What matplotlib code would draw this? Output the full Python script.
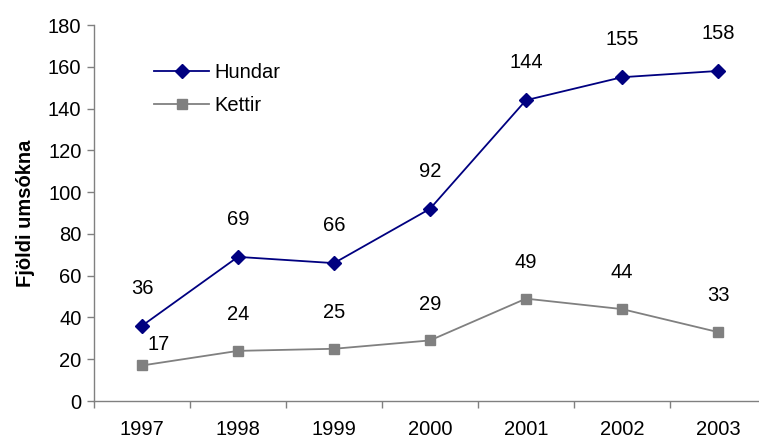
import numpy as np
import matplotlib
matplotlib.use('Agg')
import matplotlib.pyplot as plt

plt.rcParams['font.family'] = ['Liberation Sans', 'DejaVu Sans']

years = ['1997', '1998', '1999', '2000', '2001', '2002', '2003']
hundar = [36, 69, 66, 92, 144, 155, 158]
kettir = [17, 24, 25, 29, 49, 44, 33]

fs = 14.5
fig = plt.figure(figsize=(7.59, 4.41), dpi=100)
ax = fig.add_axes([0.1238, 0.0907, 0.8854, 0.8526])
x = np.arange(len(years))

ax.plot(x, hundar, color='#000080', marker='D', markersize=7, linewidth=1.3, label='Hundar', clip_on=False)
ax.plot(x, kettir, color='#808080', marker='s', markersize=7, linewidth=1.3, label='Kettir', clip_on=False)

for i, v in enumerate(hundar):
    ax.annotate(str(v), (i, v), xytext=(0, 27), textcoords='offset points',
                ha='center', va='center', fontsize=fs)
for i, v in enumerate(kettir):
    dx, dy = (12, 15) if i == 0 else (0, 26)
    ax.annotate(str(v), (i, v), xytext=(dx, dy), textcoords='offset points',
                ha='center', va='center', fontsize=fs)

ax.set_xlim(-0.5, 6.5)
ax.set_ylim(0, 180)
ax.set_yticks(np.arange(0, 181, 20))
ax.set_xticks(x)
ax.set_xticklabels(years)
ax.set_xticks(np.arange(-0.5, 7, 1), minor=True)
ax.tick_params(axis='x', which='major', length=0, pad=14, labelsize=fs)
ax.tick_params(axis='x', which='minor', length=5, color='#808080', width=1)
ax.tick_params(axis='y', length=5, color='#808080', width=1, labelsize=fs, pad=4)

for s in ['top', 'right']:
    ax.spines[s].set_visible(False)
for s in ['left', 'bottom']:
    ax.spines[s].set_color('#808080')
    ax.spines[s].set_linewidth(1)

ax.set_ylabel('Fjöldi umsókna', fontsize=fs, fontweight='bold', labelpad=9)

ax.legend(loc='center left', bbox_to_anchor=(0.075, 0.83), frameon=False, fontsize=fs,
          handlelength=2.7, handletextpad=0.3, labelspacing=0.7, borderpad=0)

fig.savefig('out.png', dpi=100)
